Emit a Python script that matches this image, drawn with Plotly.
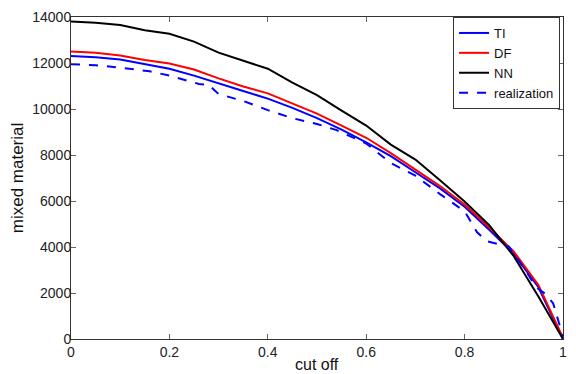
import plotly.graph_objects as go

cut_off = [0, 0.05, 0.1, 0.15, 0.2, 0.25, 0.3, 0.35, 0.4, 0.45, 0.5,
           0.55, 0.6, 0.65, 0.7, 0.75, 0.8, 0.85, 0.9, 0.95, 1.0]

ti = [12300, 12250, 12150, 11950, 11750, 11450, 11100, 10780, 10450, 10050, 9600,
      9100, 8550, 7950, 7250, 6550, 5750, 4750, 3700, 2250, 0]
df = [12500, 12450, 12330, 12130, 11980, 11720, 11330, 10980, 10680, 10250, 9800,
      9280, 8750, 8080, 7380, 6650, 5850, 4850, 3800, 2350, 50]
nn = [13800, 13750, 13650, 13420, 13270, 12930, 12450, 12100, 11750, 11150, 10600,
      9930, 9280, 8450, 7800, 6900, 5980, 4950, 3600, 1850, 0]

real_x = [0, 0.05, 0.1, 0.16, 0.2, 0.26, 0.28, 0.30, 0.35, 0.4, 0.45, 0.5,
          0.54, 0.6, 0.65, 0.7, 0.75, 0.8, 0.825, 0.845, 0.89, 0.925,
          0.945, 0.965, 0.98, 1.0]
real_y = [11950, 11900, 11800, 11640, 11450, 11090, 11050, 10650, 10350, 9950, 9600, 9350,
          9080, 8500, 7650, 7100, 6300, 5550, 4650, 4250, 4020, 2950,
          2250, 1950, 1550, 100]

x_ticks = [0, 0.2, 0.4, 0.6, 0.8, 1]
x_labels = ["0", "0.2", "0.4", "0.6", "0.8", "1"]
y_ticks = [0, 2000, 4000, 6000, 8000, 10000, 12000, 14000]

font = "Liberation Sans, Arial"

fig = go.Figure()
fig.add_trace(go.Scatter(x=cut_off, y=ti, mode="lines", name="TI",
                         line=dict(color="#0000ff", width=2)))
fig.add_trace(go.Scatter(x=cut_off, y=df, mode="lines", name="DF",
                         line=dict(color="#ff0000", width=2)))
fig.add_trace(go.Scatter(x=cut_off, y=nn, mode="lines", name="NN",
                         line=dict(color="#000000", width=2)))
fig.add_trace(go.Scatter(x=real_x, y=real_y, mode="lines", name="realization",
                         line=dict(color="#0000ff", width=2, dash="dash")))

axis_style = dict(showline=True, linecolor="#333333", linewidth=1, mirror="ticks",
                  ticks="inside", ticklen=5, tickcolor="#666666", showgrid=False,
                  zeroline=False, tickfont=dict(family=font, size=14, color="#222"))

fig.update_xaxes(range=[0, 1], tickvals=x_ticks, ticktext=x_labels, **axis_style)
fig.update_yaxes(range=[0, 14000], tickvals=y_ticks, tickformat="d",
                 ticklabelstandoff=-4,
                 title=dict(text="mixed material", standoff=4,
                            font=dict(family=font, size=17, color="#111")),
                 **axis_style)

fig.add_annotation(text="cut off", xref="paper", yref="paper", x=0.5, y=0,
                   yshift=-25, yanchor="middle", showarrow=False,
                   font=dict(family=font, size=16, color="#111"))

fig.update_layout(
    width=576, height=374,
    margin=dict(l=71, r=9, t=12, b=35),
    plot_bgcolor="white",
    paper_bgcolor="white",
    showlegend=True,
    legend=dict(x=0.994, y=1.0, xanchor="right", yanchor="top",
                bordercolor="#333", borderwidth=1, bgcolor="white",
                font=dict(family=font, size=13, color="#111"),
                tracegroupgap=0, itemwidth=30),
)

# the page's default body margin would shift the figure by 8px
fig.write_html("out.html", config={"displayModeBar": False},
               post_script="document.body.style.margin='0';")
